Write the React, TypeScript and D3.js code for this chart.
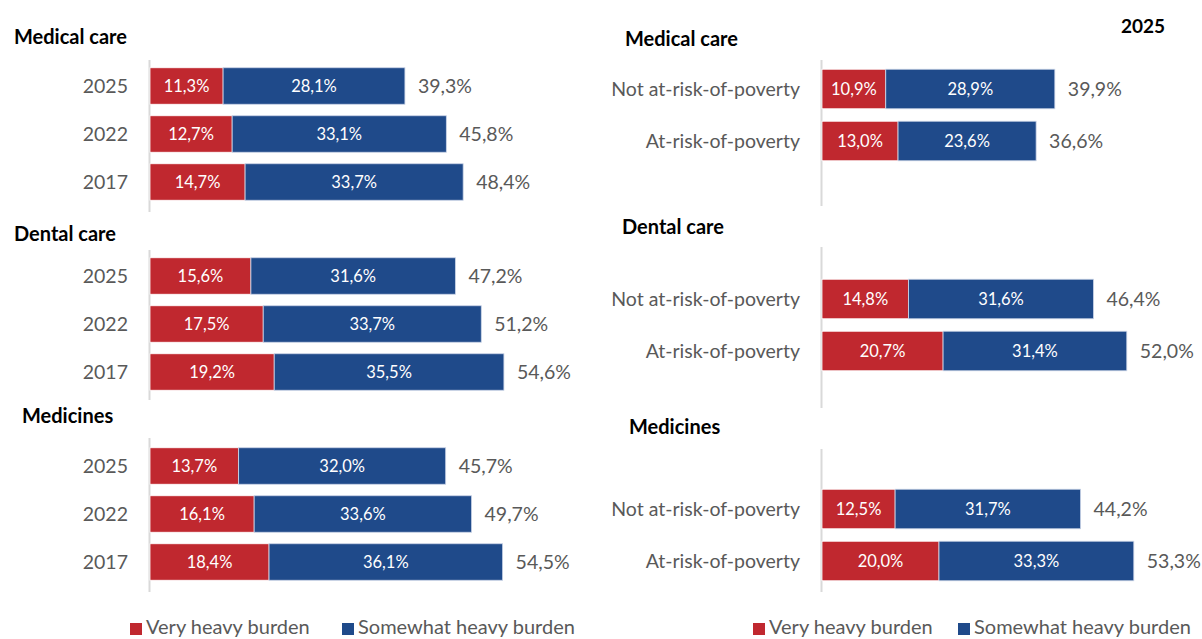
import React from "react";
import * as d3 from "d3";

// left panel: by survey year
const years = ["2025", "2022", "2017"];
const medicalVeryYear = [11.3, 12.7, 14.7];
const medicalSomewhatYear = [28.1, 33.1, 33.7];
const medicalTotalYear = [39.3, 45.8, 48.4];
const dentalVeryYear = [15.6, 17.5, 19.2];
const dentalSomewhatYear = [31.6, 33.7, 35.5];
const dentalTotalYear = [47.2, 51.2, 54.6];
const medsVeryYear = [13.7, 16.1, 18.4];
const medsSomewhatYear = [32.0, 33.6, 36.1];
const medsTotalYear = [45.7, 49.7, 54.5];

// right panel: 2025 by poverty status
const groups = ["Not at-risk-of-poverty", "At-risk-of-poverty"];
const medicalVeryPov = [10.9, 13.0];
const medicalSomewhatPov = [28.9, 23.6];
const medicalTotalPov = [39.9, 36.6];
const dentalVeryPov = [14.8, 20.7];
const dentalSomewhatPov = [31.6, 31.4];
const dentalTotalPov = [46.4, 52.0];
const medsVeryPov = [12.5, 20.0];
const medsSomewhatPov = [31.7, 33.3];
const medsTotalPov = [44.2, 53.3];

const sectionTitles = ["Medical care", "Dental care", "Medicines"];
const legendLabels = ["Very heavy burden", "Somewhat heavy burden"];

const RED = "#C0282F";
const BLUE = "#1F4A8A";
const GREY = "#595959";
const FONT = "Lato, 'Open Sans', sans-serif";

const fmt = (v: number) => v.toFixed(1).replace(".", ",") + "%";

type Section = {
  title: string;
  cats: string[];
  very: number[];
  somewhat: number[];
  total: number[];
  titleX: number;
  titleY: number;
  top: number;
  bottom: number;
  bandTop: number;
  bandBottom: number;
};

function Panel({ sections, x0, pxPerPct, labelX, padding }: { sections: Section[]; x0: number; pxPerPct: number; labelX: number; padding: number }) {
  const x = d3.scaleLinear().domain([0, 100]).range([x0, x0 + 100 * pxPerPct]);
  return (
    <g>
      {sections.map((s) => {
        const y = d3.scaleBand().domain(s.cats).range([s.bandTop, s.bandBottom]).paddingInner(padding).paddingOuter(padding / 2);
        return (
          <g key={s.title + x0}>
            <text x={s.titleX} y={s.titleY} fontWeight="bold" fontSize={20} fill="#000">{s.title}</text>
            <line x1={x0 - 0.5} x2={x0 - 0.5} y1={s.top} y2={s.bottom} stroke="#D9D9D9" strokeWidth={2} />
            {s.cats.map((c, i) => {
              const yy = y(c) as number;
              const h = y.bandwidth();
              const cy = yy + h / 2;
              const v1 = s.very[i];
              const v2 = s.somewhat[i];
              return (
                <g key={c}>
                  <text x={labelX} y={cy} dy="0.35em" textAnchor="end" fontSize={19.5} fill={GREY}>{c}</text>
                  <rect x={x(0)} y={yy} width={x(v1) - x(0)} height={h} fill={RED} stroke="#fff" strokeWidth={0.8} />
                  <rect x={x(v1)} y={yy} width={x(v1 + v2) - x(v1)} height={h} fill={BLUE} stroke="#C9D3E6" strokeWidth={0.8} />
                  <text x={(x(0) + x(v1)) / 2} y={cy} dy="0.35em" textAnchor="middle" fontSize={16.5} fill="#fff">{fmt(v1)}</text>
                  <text x={(x(v1) + x(v1 + v2)) / 2} y={cy} dy="0.35em" textAnchor="middle" fontSize={16.5} fill="#fff">{fmt(v2)}</text>
                  <text x={x(v1 + v2) + 13} y={cy} dy="0.35em" fontSize={19.5} fill={GREY}>{fmt(s.total[i])}</text>
                </g>
              );
            })}
          </g>
        );
      })}
    </g>
  );
}

function Legend({ x, y, gap }: { x: number; y: number; gap: number }) {
  const colors = [RED, BLUE];
  return (
    <g>
      {legendLabels.map((l, i) => {
        const lx = x + i * gap;
        return (
          <g key={l}>
            <rect x={lx} y={y - 11} width={12} height={12} fill={colors[i]} />
            <text x={lx + 16} y={y} fontSize={20} fill={GREY}>{l}</text>
          </g>
        );
      })}
    </g>
  );
}

export default function App() {
  const leftSections: Section[] = [
    { title: sectionTitles[0], cats: years, very: medicalVeryYear, somewhat: medicalSomewhatYear, total: medicalTotalYear, titleX: 14, titleY: 44, top: 60, bottom: 212, bandTop: 62, bandBottom: 206 },
    { title: sectionTitles[1], cats: years, very: dentalVeryYear, somewhat: dentalSomewhatYear, total: dentalTotalYear, titleX: 14, titleY: 241, top: 250, bottom: 400, bandTop: 252, bandBottom: 396 },
    { title: sectionTitles[2], cats: years, very: medsVeryYear, somewhat: medsSomewhatYear, total: medsTotalYear, titleX: 22, titleY: 423, top: 438, bottom: 592, bandTop: 442, bandBottom: 586 },
  ];
  const rightSections: Section[] = [
    { title: sectionTitles[0], cats: groups, very: medicalVeryPov, somewhat: medicalSomewhatPov, total: medicalTotalPov, titleX: 625, titleY: 46, top: 60, bottom: 206, bandTop: 63, bandBottom: 167 },
    { title: sectionTitles[1], cats: groups, very: dentalVeryPov, somewhat: dentalSomewhatPov, total: dentalTotalPov, titleX: 622, titleY: 234, top: 247, bottom: 408, bandTop: 273, bandBottom: 377 },
    { title: sectionTitles[2], cats: groups, very: medsVeryPov, somewhat: medsSomewhatPov, total: medsTotalPov, titleX: 629, titleY: 434, top: 449, bottom: 592, bandTop: 483, bandBottom: 587 },
  ];
  return (
    <svg width={1202} height={639} style={{ position: "absolute", left: 0, top: 0, background: "#fff", fontFamily: FONT }}>
      <rect width={1202} height={639} fill="#fff" />
      <Panel sections={leftSections} x0={150} pxPerPct={6.47} labelX={128} padding={0.24} />
      <Panel sections={rightSections} x0={822} pxPerPct={5.85} labelX={800} padding={0.24} />
      <text x={1165} y={33} textAnchor="end" fontWeight="bold" fontSize={19} fill="#000">2025</text>
      <Legend x={130} y={634} gap={212} />
      <Legend x={753} y={634} gap={205} />
    </svg>
  );
}
